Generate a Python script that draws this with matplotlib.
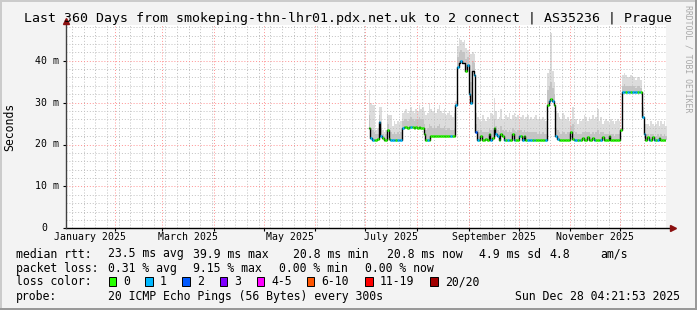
import numpy as np
import matplotlib
matplotlib.use("Agg")
import matplotlib.pyplot as plt
from matplotlib.patches import Rectangle
from matplotlib.transforms import blended_transform_factory

W, H = 697, 310
MONO = "DejaVu Sans Mono"

# one value per day, days counted from 2025-01-01 (day 183 = 2025-07-03)
FIRST_DAY = 183
MEDIAN = [
    24.0, 21.5, 21.0, 21.0, 21.0, 21.2, 25.3, 22.0, 21.5, 21.0,
    21.0, 23.5, 21.2, 21.0, 21.0, 21.0, 21.0, 21.0, 21.0, 21.0,
    24.0, 24.1, 24.1, 24.0, 24.1, 24.2, 24.1, 24.0, 24.1, 24.0,
    24.1, 24.0, 24.0, 22.5, 21.0, 21.0, 21.0, 22.0, 22.0, 22.0,
    22.0, 22.0, 22.0, 22.0, 22.0, 22.0, 22.0, 22.0, 22.0, 22.0,
    22.0, 22.0, 29.5, 38.5, 39.5, 40.0, 39.5, 39.5, 37.5, 39.0,
    32.0, 30.0, 37.5, 36.5, 23.0, 21.0, 21.0, 22.0, 21.0, 21.0,
    21.2, 21.0, 22.5, 21.0, 21.5, 24.0, 22.5, 22.0, 21.0, 22.5,
    22.0, 21.0, 21.0, 21.0, 21.0, 21.0, 22.5, 21.0, 21.0, 21.0,
    22.0, 22.0, 21.0, 22.0, 21.0, 21.0, 21.0, 21.0, 21.0, 21.0,
    21.0, 21.0, 21.0, 21.0, 21.0, 21.0, 21.0, 29.5, 30.5, 30.8,
    30.5, 29.5, 22.0, 21.2, 21.0, 21.0, 21.0, 21.0, 21.0, 21.0,
    21.0, 23.0, 21.2, 21.0, 21.0, 21.0, 21.0, 21.0, 21.5, 21.0,
    21.0, 21.8, 21.0, 21.0, 21.5, 21.0, 21.0, 21.0, 21.0, 21.0,
    21.8, 21.0, 21.0, 21.0, 22.0, 21.0, 21.0, 21.0, 21.0, 21.0,
    21.0, 23.5, 32.6, 32.6, 32.6, 32.6, 32.6, 32.6, 32.6, 32.6,
    32.6, 32.6, 32.6, 32.6, 26.5, 22.5, 21.0, 21.8, 21.0, 21.0,
    21.8, 21.0, 21.0, 21.0, 21.5, 21.0, 21.0, 21.0, 21.0,
]
SMOKE_MID = [
    27.0, 24.0, 23.5, 23.0, 22.5, 22.5, 27.0, 24.0, 22.5, 22.0,
    22.5, 25.0, 23.5, 23.0, 22.5, 23.0, 22.5, 23.0, 22.5, 23.0,
    25.5, 26.0, 26.0, 25.5, 26.0, 26.5, 26.0, 25.5, 26.0, 26.0,
    26.5, 26.0, 26.0, 25.0, 23.5, 24.0, 25.0, 24.5, 24.0, 24.5,
    24.0, 24.5, 25.0, 24.0, 24.0, 24.5, 23.5, 24.0, 24.0, 23.5,
    23.5, 24.0, 30.0, 41.0, 42.0, 42.5, 42.0, 42.0, 40.5, 41.0,
    36.0, 35.0, 40.0, 39.5, 25.0, 23.5, 23.0, 23.5, 23.0, 23.0,
    23.0, 23.0, 24.0, 23.5, 23.5, 26.0, 24.5, 23.5, 23.0, 24.5,
    23.5, 23.0, 23.5, 23.0, 23.5, 23.0, 24.0, 23.5, 23.0, 23.5,
    23.5, 23.5, 23.0, 23.5, 23.0, 23.0, 23.0, 23.0, 23.0, 23.0,
    23.0, 22.5, 23.0, 22.5, 23.0, 22.5, 22.5, 33.0, 34.0, 35.0,
    33.5, 32.0, 24.0, 23.5, 23.0, 22.5, 23.0, 23.0, 22.5, 23.0,
    22.5, 24.5, 25.0, 22.5, 23.0, 22.5, 22.5, 22.5, 23.0, 23.0,
    23.0, 23.0, 23.0, 22.5, 23.0, 22.5, 23.0, 23.5, 22.5, 23.0,
    23.0, 22.5, 22.5, 22.5, 23.0, 22.5, 22.5, 22.0, 22.5, 22.5,
    22.5, 24.0, 34.0, 34.5, 34.0, 34.0, 34.0, 34.0, 34.0, 34.0,
    33.5, 34.0, 34.0, 33.5, 28.0, 24.0, 22.5, 22.5, 22.0, 22.5,
    22.5, 22.0, 22.0, 22.5, 22.0, 22.5, 22.0, 22.5, 22.0,
]
SMOKE_HI = [
    33.0, 30.0, 29.5, 29.5, 23.5, 24.0, 29.0, 29.0, 23.5, 23.0,
    23.5, 27.0, 27.0, 27.0, 24.5, 25.5, 25.0, 25.5, 25.0, 25.5,
    27.5, 28.0, 28.5, 27.5, 28.0, 29.0, 28.0, 27.5, 28.5, 28.0,
    29.5, 28.5, 29.0, 28.0, 27.0, 27.5, 30.0, 28.5, 28.0, 29.0,
    27.5, 28.5, 29.5, 28.0, 27.5, 28.5, 27.0, 27.5, 28.0, 27.0,
    26.5, 27.5, 30.5, 43.5, 45.5, 45.0, 44.5, 45.0, 43.0, 42.5,
    41.5, 41.5, 42.0, 41.5, 27.5, 26.5, 26.0, 25.5, 27.0, 26.0,
    25.5, 26.5, 26.0, 27.5, 27.0, 31.0, 28.0, 26.0, 26.5, 28.5,
    26.0, 25.5, 27.0, 26.5, 27.5, 26.0, 27.0, 27.5, 26.5, 27.0,
    26.0, 26.5, 27.0, 26.0, 26.5, 27.0, 26.0, 26.5, 26.0, 26.5,
    27.0, 26.0, 26.5, 26.0, 26.5, 26.0, 25.5, 37.0, 38.0, 46.5,
    37.5, 35.0, 28.0, 27.5, 26.5, 26.0, 27.5, 27.0, 26.0, 26.5,
    25.5, 26.0, 29.0, 25.5, 26.0, 25.0, 26.0, 25.5, 26.0, 27.0,
    26.5, 25.5, 26.5, 26.0, 27.0, 26.0, 26.5, 28.5, 25.5, 26.5,
    25.0, 25.5, 26.0, 25.5, 25.0, 26.0, 25.5, 25.0, 25.5, 26.0,
    25.5, 24.0, 36.5, 37.0, 36.5, 36.0, 36.0, 36.5, 36.0, 36.0,
    35.5, 36.0, 36.0, 35.5, 29.0, 26.0, 25.0, 25.0, 24.5, 25.5,
    25.0, 24.5, 25.0, 25.5, 24.5, 25.5, 25.0, 25.5, 24.5,
]
# lost pings per day (-1: median drawn without loss colour)
LOSS = [
    0, 1, 1, 0, 0, 0, 1, 1, 0, 0,
    0, 0, 0, 1, 1, 1, 0, 1, 1, 1,
    1, 0, 0, 0, 0, 1, 0, 0, 0, 0,
    0, 0, 0, 0, 0, 1, 0, 0, 0, 0,
    0, 0, 0, 0, 0, 0, 0, 0, 0, 1,
    0, 0, 1, 1, -1, 1, -1, -1, 0, 1,
    1, 1, -1, 1, 2, 1, 0, 0, 0, 0,
    0, 0, 0, 1, 0, 0, 1, 1, 0, 0,
    0, 1, 0, 1, 0, 0, 0, 1, 0, 0,
    1, 0, 1, 0, 0, 1, 1, 1, 0, 1,
    0, 0, 0, 0, 0, 0, 1, 0, 1, 0,
    1, 0, 1, 1, 0, 0, 0, 0, 0, 0,
    0, 0, 0, 1, 1, 0, 1, 0, 0, 0,
    0, 0, 0, 0, 0, 1, 0, 0, 0, 1,
    0, 0, 0, 0, 0, 0, 0, 0, 0, 0,
    0, 0, 1, 1, 0, 1, 1, 0, 1, 1,
    1, 0, 1, 0, 1, 1, 0, 0, 1, 0,
    0, 1, 0, 1, 0, 0, 0, 0, 0,
]

LOSS_COLORS = {0: "#26ff00", 1: "#00b8ff", 2: "#0059ff"}
LEGEND_LABELS = ["0", "1", "2", "3", "4-5", "6-10", "11-19", "20/20"]
LEGEND_COLORS = ["#26ff00", "#00b8ff", "#0059ff", "#7e00ff",
                 "#ff00ff", "#ff5500", "#ff0000", "#a10000"]
MONTHS = ["2025-01-01", "2025-02-01", "2025-03-01", "2025-04-01",
          "2025-05-01", "2025-06-01", "2025-07-01", "2025-08-01",
          "2025-09-01", "2025-10-01", "2025-11-01", "2025-12-01",
          "2026-01-01"]
MONTH_NAMES = ["January", "February", "March", "April", "May", "June",
               "July", "August", "September", "October", "November",
               "December"]
X_START, X_END = 1.1819, 361.1819      # 360 days ending Dec 28 04:21:53
Y_MAX = 48.5

TITLE = ("Last 360 Days from smokeping-thn-lhr01.pdx.net.uk to 2 connect "
         "| AS35236 | Prague")
ROW_RTT = [(16, "median rtt:"), (107.6, "23.5 ms avg"), (192.9, "39.9 ms max"),
           (293.3, "20.8 ms min"), (386.7, "20.8 ms now"),
           (479, "4.9 ms sd"), (549.8, "4.8"), (600, "am/s")]
ROW_LOSS = [(16, "packet loss:"), (107.6, "0.31 % avg"), (192.9, "9.15 % max"),
            (279.1, "0.00 % min"), (365.3, "0.00 % now")]
LEGEND_X = [108.9, 145.3, 182.2, 219.6, 256.9, 306.7, 365.3, 430.2]
ROW_PROBE = [(16, "probe:"), (107.6, "20 ICMP Echo Pings (56 Bytes) every 300s")]
STAMP = "Sun Dec 28 04:21:53 2025"


def doy(s):
    return float((np.datetime64(s) - np.datetime64("2025-01-01"))
                 .astype("timedelta64[D]").astype(int))


def ftext(x, y, s, **kw):
    kw.setdefault("family", MONO)
    kw.setdefault("fontsize", 8.3)
    kw.setdefault("va", "center")
    fig.text(x / W, 1 - y / H, s, **kw)


fig = plt.figure(figsize=(W / 100, H / 100), dpi=100, facecolor="#f3f3f3")
ax = fig.add_axes([65.8 / W, (H - 228.3) / H, 600 / W, (228.3 - 25.1) / H])
ax.set_facecolor("white")
ax.set_xlim(X_START, X_END)
ax.set_ylim(0, Y_MAX)
for sp in ax.spines.values():
    sp.set_visible(False)

# smoke + median
med = np.array(MEDIAN)
x = np.arange(FIRST_DAY, FIRST_DAY + len(med) + 1)
med_e = np.append(med, med[-1])
hi_e = np.append(SMOKE_HI, SMOKE_HI[-1])
mid_e = np.append(SMOKE_MID, SMOKE_MID[-1])
ax.fill_between(x, med_e, hi_e, step="post", color="#dcdcdc", lw=0, zorder=2)
ax.fill_between(x, med_e, mid_e, step="post", color="#c4c4c4", lw=0, zorder=2.5)

# grid (drawn over the smoke like rrdtool does)
dash = (0, (1, 2))
for v in np.arange(2, Y_MAX, 2):
    if v % 10:
        ax.axhline(v, color="#c0c0c0", lw=0.7, ls=dash, zorder=3)
for d in np.arange(5, X_END, 7):
    ax.axvline(d, color="#c0c0c0", lw=0.7, ls=dash, zorder=3)
for v in (10, 20, 30, 40):
    ax.axhline(v, color="#ff9090", lw=0.7, ls=dash, zorder=3.2)
starts = [doy(m) for m in MONTHS]
for d in starts[1:12]:
    ax.axvline(d, color="#ff9090", lw=0.7, ls=dash, zorder=3.2)

ax.step(x, med_e, where="post", color="black", lw=1.0, zorder=4)
loss = np.array(LOSS)
for code, col in LOSS_COLORS.items():
    idx = np.where(loss == code)[0]
    ax.hlines(med[idx], x[idx], x[idx] + 1, colors=col, lw=1.8, zorder=5)

# axes with arrows
ax.plot([0, 1.012], [0, 0], transform=ax.transAxes, color="black", lw=1,
        clip_on=False, zorder=6)
ax.plot([0, 0], [0, 1.02], transform=ax.transAxes, color="#404040", lw=1,
        clip_on=False, zorder=6)
ax.plot([1.012], [0], transform=ax.transAxes, marker=">", color="#8b1010",
        ms=4, clip_on=False, zorder=7)
ax.plot([0], [1.02], transform=ax.transAxes, marker="^", color="#8b1010",
        ms=4, clip_on=False, zorder=7)

# tick marks
ax.set_xticks(starts[1:12])
ax.set_xticklabels([])
ax.set_yticks([0, 10, 20, 30, 40])
ax.set_yticklabels([])
ax.tick_params(length=2.2, width=0.8, color="black", direction="out")

# x labels at mid-month, every second month
trans = blended_transform_factory(ax.transData, ax.transAxes)
for i in range(0, 12, 2):
    mid = (starts[i] + starts[i + 1]) / 2
    ax.text(mid, -0.045, f"{MONTH_NAMES[i]} 2025", transform=trans,
            ha="center", va="center", family=MONO, fontsize=7.15)

# y labels
for v in (10, 20, 30, 40):
    ftext(59.3, 228.3 - v * 4.19, f"{v} m", ha="right", fontsize=7.15)
ftext(47.3, 228.3, "0", ha="right", fontsize=7.15)
ftext(10, 127, "Seconds", rotation=90, ha="center", fontsize=8.3)

ftext(W / 2, 18.5, TITLE, ha="center", fontsize=9.5)
ftext(688, 59, "RRDTOOL / TOBI OETIKER", rotation=270, ha="center",
      fontsize=5.9, color="#a8a8a8")

for xx, s in ROW_RTT:
    ftext(xx, 254, s)
for xx, s in ROW_LOSS:
    ftext(xx, 268.3, s)
ftext(16, 281.7, "loss color:")
for xx, lab, col in zip(LEGEND_X, LEGEND_LABELS, LEGEND_COLORS):
    fig.add_artist(Rectangle((xx / W, 1 - 286 / H), 7.5 / W, 8.7 / H,
                             transform=fig.transFigure, facecolor=col,
                             edgecolor="black", lw=0.7))
    ftext(xx + 14.5, 281.7, lab)
for xx, s in ROW_PROBE:
    ftext(xx, 296.7, s)
ftext(680, 296.7, STAMP, ha="right")

# rrdtool style shaded frame
fig.add_artist(Rectangle((0, 0), 2 / W, 1, transform=fig.transFigure,
                         color="#cbcbcb", lw=0))
fig.add_artist(Rectangle((0, 1 - 2 / H), 1, 2 / H, transform=fig.transFigure,
                         color="#cbcbcb", lw=0))
fig.add_artist(Rectangle((1 - 2 / W, 0), 2 / W, 1, transform=fig.transFigure,
                         color="#999999", lw=0))
fig.add_artist(Rectangle((0, 0), 1, 2 / H, transform=fig.transFigure,
                         color="#999999", lw=0))

fig.savefig("out.png", dpi=100, facecolor=fig.get_facecolor())
